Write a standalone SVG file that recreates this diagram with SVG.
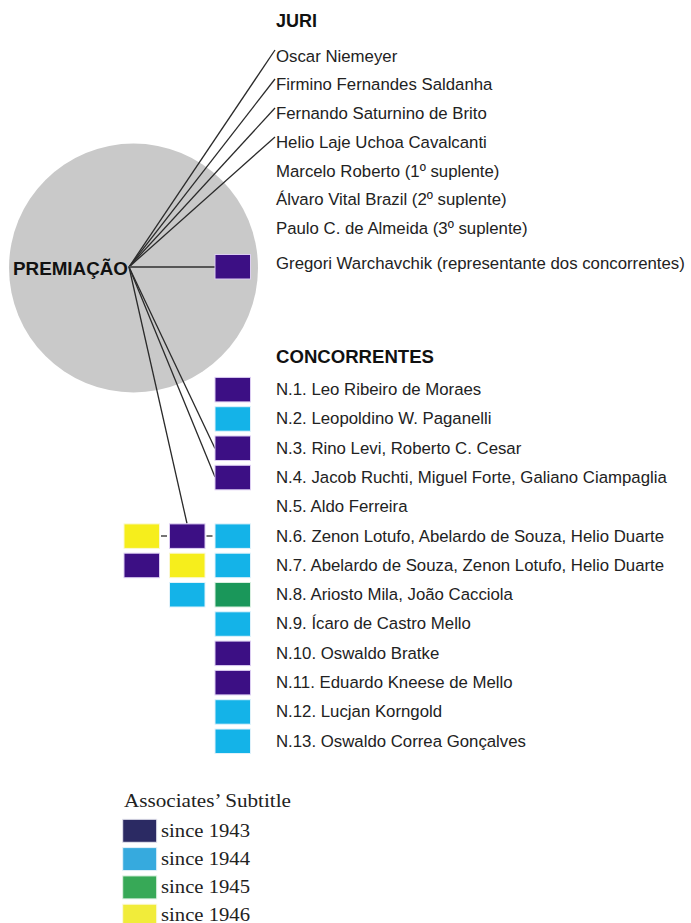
<svg xmlns="http://www.w3.org/2000/svg" width="691" height="923" viewBox="0 0 691 923">
<style>
.t{font-family:"Liberation Sans",Arial,sans-serif;font-size:16.8px;fill:#222}
.h{font-family:"Liberation Sans",Arial,sans-serif;font-size:18.5px;font-weight:bold;fill:#111}
.s{font-family:"Liberation Serif","Times New Roman",serif;font-size:18px;fill:#222}
.ln{stroke:#2a2a2a;stroke-width:1.3;fill:none}
.pu{fill:#3c0f84;stroke:#dccdf2;stroke-width:1}
.cy{fill:#14b3e8;stroke:#dff2fb;stroke-width:1}
.gr{fill:#1a975a;stroke:#d8efe0;stroke-width:1}
.ye{fill:#f6ee1c;stroke:#fbf8d0;stroke-width:1}
</style>
<rect width="691" height="923" fill="#fff"/>
<g id="premiacao">
<circle cx="133.5" cy="268" r="124.5" fill="#c9c9c9"/>
<text class="h" x="13" y="274.5" textLength="115" lengthAdjust="spacingAndGlyphs">PREMIAÇÃO</text>
</g>
<g id="connectors">
<line class="ln" x1="129" y1="267" x2="275" y2="50"/>
<line class="ln" x1="129" y1="267" x2="275" y2="79"/>
<line class="ln" x1="129" y1="267" x2="275" y2="108"/>
<line class="ln" x1="129" y1="267" x2="275" y2="137"/>
<line x1="129" y1="267" x2="215" y2="267" stroke="#555" stroke-width="2"/>
<line class="ln" x1="129" y1="267" x2="215" y2="448.5"/>
<line class="ln" x1="129" y1="267" x2="215" y2="477"/>
<line class="ln" x1="129" y1="267" x2="187" y2="523.5"/>
<line class="ln" x1="161" y1="536" x2="167" y2="536"/>
<line class="ln" x1="206.5" y1="536" x2="212.5" y2="536"/>
</g>
<g id="juri">
<text class="h" x="276" y="26.5" textLength="41" lengthAdjust="spacingAndGlyphs">JURI</text>
<text class="t" x="276" y="61.5">Oscar Niemeyer</text>
<text class="t" x="276" y="90.3">Firmino Fernandes Saldanha</text>
<text class="t" x="276" y="119">Fernando Saturnino de Brito</text>
<text class="t" x="276" y="147.8">Helio Laje Uchoa Cavalcanti</text>
<text class="t" x="276" y="176.5">Marcelo Roberto (1º suplente)</text>
<text class="t" x="276" y="205.3">Álvaro Vital Brazil (2º suplente)</text>
<text class="t" x="276" y="234">Paulo C. de Almeida (3º suplente)</text>
</g>
<g id="gregori">
<rect class="pu" x="215" y="254.5" width="35.5" height="24.5"/>
<text class="t" x="276" y="268.5">Gregori Warchavchik (representante dos concorrentes)</text>
</g>
<g id="concorrentes">
<text class="h" x="276" y="362.7" textLength="158" lengthAdjust="spacingAndGlyphs">CONCORRENTES</text>
</g>
<g id="n1"><rect class="pu" x="215" y="377.4" width="35.5" height="24.5"/><text class="t" x="276" y="395">N.1. Leo Ribeiro de Moraes</text></g>
<g id="n2"><rect class="cy" x="215" y="406.7" width="35.5" height="24.5"/><text class="t" x="276" y="424.3">N.2. Leopoldino W. Paganelli</text></g>
<g id="n3"><rect class="pu" x="215" y="436" width="35.5" height="24.5"/><text class="t" x="276" y="453.6">N.3. Rino Levi, Roberto C. Cesar</text></g>
<g id="n4"><rect class="pu" x="215" y="465.3" width="35.5" height="24.5"/><text class="t" x="276" y="482.9">N.4. Jacob Ruchti, Miguel Forte, Galiano Ciampaglia</text></g>
<g id="n5"><text class="t" x="276" y="512.2">N.5. Aldo Ferreira</text></g>
<g id="n6"><rect class="ye" x="124" y="523.9" width="35.5" height="24.5"/><rect class="pu" x="169.5" y="523.9" width="35.5" height="24.5"/><rect class="cy" x="215" y="523.9" width="35.5" height="24.5"/><text class="t" x="276" y="541.5">N.6. Zenon Lotufo, Abelardo de Souza, Helio Duarte</text></g>
<g id="n7"><rect class="pu" x="124" y="553.2" width="35.5" height="24.5"/><rect class="ye" x="169.5" y="553.2" width="35.5" height="24.5"/><rect class="cy" x="215" y="553.2" width="35.5" height="24.5"/><text class="t" x="276" y="570.8">N.7. Abelardo de Souza, Zenon Lotufo, Helio Duarte</text></g>
<g id="n8"><rect class="cy" x="169.5" y="582.5" width="35.5" height="24.5"/><rect class="gr" x="215" y="582.5" width="35.5" height="24.5"/><text class="t" x="276" y="600.1">N.8. Ariosto Mila, João Cacciola</text></g>
<g id="n9"><rect class="cy" x="215" y="611.8" width="35.5" height="24.5"/><text class="t" x="276" y="629.4">N.9. Ícaro de Castro Mello</text></g>
<g id="n10"><rect class="pu" x="215" y="641.1" width="35.5" height="24.5"/><text class="t" x="276" y="658.7">N.10. Oswaldo Bratke</text></g>
<g id="n11"><rect class="pu" x="215" y="670.4" width="35.5" height="24.5"/><text class="t" x="276" y="688">N.11. Eduardo Kneese de Mello</text></g>
<g id="n12"><rect class="cy" x="215" y="699.7" width="35.5" height="24.5"/><text class="t" x="276" y="717.3">N.12. Lucjan Korngold</text></g>
<g id="n13"><rect class="cy" x="215" y="729" width="35.5" height="24.5"/><text class="t" x="276" y="746.6">N.13. Oswaldo Correa Gonçalves</text></g>
<g id="legend">
<text class="s" x="124" y="807.3" textLength="167" lengthAdjust="spacingAndGlyphs">Associates’ Subtitle</text>
<rect x="122.7" y="819.3" width="34" height="23" fill="#2b2a63" stroke="#e4e4ee" stroke-width="1"/>
<text class="s" x="161" y="836.8" textLength="89" lengthAdjust="spacingAndGlyphs">since 1943</text>
<rect x="122.7" y="847.6" width="34" height="23" fill="#36aade" stroke="#e4f2fa" stroke-width="1"/>
<text class="s" x="161" y="865" textLength="89" lengthAdjust="spacingAndGlyphs">since 1944</text>
<rect x="122.7" y="875.9" width="34" height="23" fill="#37a957" stroke="#e0f2e4" stroke-width="1"/>
<text class="s" x="161" y="893.2" textLength="89" lengthAdjust="spacingAndGlyphs">since 1945</text>
<rect x="122.7" y="904.2" width="34" height="23" fill="#f1ec3a" stroke="#fbf9dc" stroke-width="1"/>
<text class="s" x="161" y="920.5" textLength="89" lengthAdjust="spacingAndGlyphs">since 1946</text>
</g>
</svg>
